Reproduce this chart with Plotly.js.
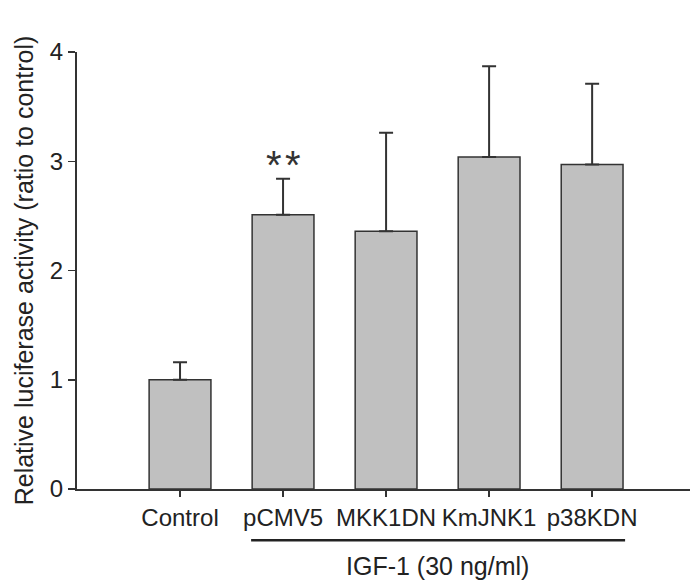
<!DOCTYPE html>
<html>
<head>
<meta charset="utf-8">
<script src="https://cdn.plot.ly/plotly-3.0.1.min.js"></script>
<style>html,body{margin:0;padding:0;background:#fff;}#chart{width:691px;height:582px;}</style>
</head>
<body>
<div id="chart"></div>
<script>
const categories = ["Control", "pCMV5", "MKK1DN", "KmJNK1", "p38KDN"];
const values = [1.00, 2.51, 2.36, 3.04, 2.97];
const errorsUp = [0.16, 0.33, 0.90, 0.83, 0.74];
const significance = ["", "*\u200A*", "", "", ""];
const groupLabel = "IGF-1 (30 ng/ml)";
const groupMembers = ["pCMV5", "MKK1DN", "KmJNK1", "p38KDN"];
const yTickVals = [0, 1, 2, 3, 4];

const xIdx = categories.map((c, i) => i);
const axisColor = "#333333";
const font = "Liberation Sans, Arial, sans-serif";

const trace = {
  type: "bar",
  x: xIdx,
  y: values,
  width: 0.6,
  marker: {color: "#c0c0c0", line: {color: "#333333", width: 1.5}},
  error_y: {type: "data", symmetric: false, array: errorsUp, arrayminus: values.map(() => 0),
            color: "#333333", thickness: 2, width: 7},
  hoverinfo: "skip"
};

const annotations = [];
significance.forEach((s, i) => {
  if (s) annotations.push({x: i, y: values[i] + errorsUp[i], xref: "x", yref: "y", text: s,
    showarrow: false, yanchor: "bottom", yshift: -10, font: {family: font, size: 40, color: "#333"}});
});
const gi = groupMembers.map(g => categories.indexOf(g));
const g0 = Math.min(...gi), g1 = Math.max(...gi);
annotations.push({x: (g0 + g1) / 2, y: -0.176, xref: "x", yref: "paper", text: groupLabel,
  showarrow: false, yanchor: "middle", font: {family: font, size: 25, color: "#222"}});

const layout = {
  width: 691, height: 582,
  margin: {l: 77, r: 1, t: 52, b: 93},
  paper_bgcolor: "#fff", plot_bgcolor: "#fff",
  showlegend: false,
  font: {family: font, color: "#222"},
  xaxis: {
    range: [-1, 4.95], tickmode: "array", tickvals: xIdx, ticktext: categories, tickangle: 0,
    showline: true, linecolor: axisColor, linewidth: 2, ticks: "outside", ticklen: 6, tickwidth: 1.5,
    tickcolor: axisColor, showgrid: false, zeroline: false, fixedrange: true,
    tickfont: {family: font, size: 24, color: "#222"}
  },
  yaxis: {
    range: [0, 4], tickmode: "array", tickvals: yTickVals,
    showline: true, linecolor: axisColor, linewidth: 2, ticks: "outside", ticklen: 7, tickwidth: 1.5,
    tickcolor: axisColor, showgrid: false, zeroline: false, fixedrange: true,
    tickfont: {family: font, size: 24, color: "#222"},
    title: {text: "Relative luciferase activity (ratio to control)", standoff: 9,
            font: {family: font, size: 25, color: "#222"}}
  },
  shapes: [{type: "line", xref: "x", yref: "paper", x0: g0 - 0.31, x1: g1 + 0.32, y0: -0.117, y1: -0.117,
            line: {color: "#222", width: 2.5}}],
  annotations: annotations
};

Plotly.newPlot("chart", [trace], layout, {displayModeBar: false, staticPlot: true});
</script>
</body>
</html>
